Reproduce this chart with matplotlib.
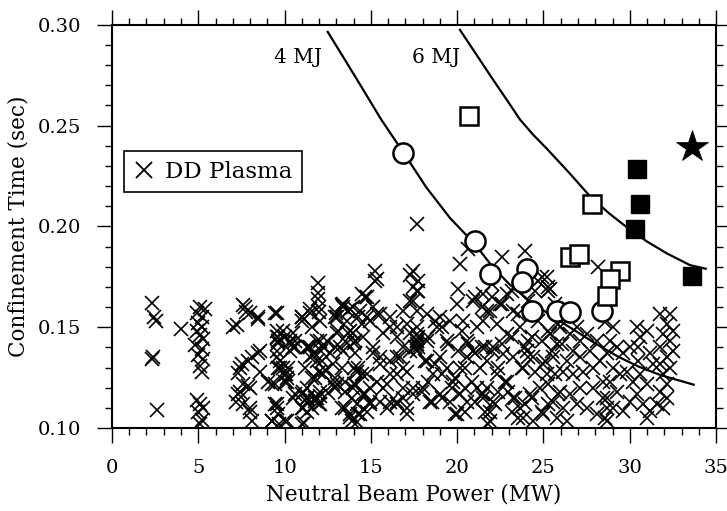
import matplotlib
matplotlib.use("Agg")
import matplotlib.pyplot as plt
from matplotlib.lines import Line2D
from matplotlib.ticker import MultipleLocator, FormatStrFormatter

plt.rcParams['font.family'] = ['DejaVu Serif']
plt.rcParams['mathtext.fontset'] = 'dejavuserif'

# DD plasma shots, (neutral beam power [MW], confinement time [s])
dd_low = [
    (2.3, 0.162), (2.45, 0.155), (2.55, 0.153), (2.3, 0.134), (2.35, 0.135),
    (2.6, 0.109), (4.0, 0.149),
    (5.1, 0.160), (5.4, 0.159), (4.9, 0.157), (5.2, 0.155), (5.0, 0.152),
    (5.2, 0.150), (4.9, 0.148), (5.1, 0.146), (5.3, 0.144), (4.8, 0.141),
    (5.2, 0.139), (5.0, 0.136), (5.3, 0.134), (5.1, 0.131), (5.2, 0.128),
    (4.9, 0.114), (5.1, 0.112), (5.3, 0.110), (5.0, 0.108), (5.2, 0.104),
    (5.1, 0.102),
    (7.0, 0.150), (7.7, 0.160), (7.75, 0.1575), (8.47, 0.155), (7.4, 0.130),
    (7.9, 0.133), (8.47, 0.137), (7.4, 0.118), (7.9, 0.121), (7.2, 0.113),
    (8.0, 0.110), (8.1, 0.1035), (9.44, 0.157), (9.3, 0.122), (9.55, 0.112),
    (9.3, 0.1035), (9.7, 0.102), (9.55, 0.145), (9.6, 0.142), (9.55, 0.138),
    (9.75, 0.133), (9.9, 0.130), (10.1, 0.127), (10.0, 0.123), (10.3, 0.143),
    (10.6, 0.140), (10.5, 0.147), (11.0, 0.155), (11.5, 0.157), (11.95, 0.172),
    (11.95, 0.167), (11.95, 0.164), (12.0, 0.160), (12.0, 0.1575), (11.5, 0.140),
    (11.7, 0.137), (11.9, 0.133), (12.05, 0.143), (12.1, 0.138), (11.2, 0.130),
    (11.6, 0.125), (12.0, 0.128), (11.0, 0.117), (11.3, 0.115), (11.75, 0.1136),
    (12.0, 0.112), (12.05, 0.116), (11.0, 0.110), (11.3, 0.108), (11.1, 0.1025),
    (12.8, 0.122), (13.3, 0.110), (13.0, 0.157), (13.4, 0.160), (13.7, 0.158),
    (13.8, 0.148), (14.0, 0.142), (13.4, 0.138), (14.0, 0.130), (14.0, 0.122),
    (13.8, 0.1055), (14.2, 0.103),
    (7.61, 0.161), (7.99, 0.157), (8.48, 0.154), (9.54, 0.157), (7.22, 0.151),
    (10.99, 0.155), (11.47, 0.159), (12.92, 0.155), (13.3, 0.161), (13.79, 0.159),
    (14.46, 0.1665), (14.27, 0.155), (9.54, 0.148), (10.02, 0.145), (10.6, 0.143),
    (9.64, 0.143), (10.5, 0.140), (11.86, 0.143), (11.38, 0.140), (12.24, 0.140),
    (11.66, 0.136), (12.15, 0.133), (12.34, 0.129), (12.92, 0.140), (13.11, 0.148),
    (13.69, 0.147), (13.6, 0.142), (14.08, 0.143), (14.46, 0.1515), (14.08, 0.137),
    (14.27, 0.130), (14.46, 0.127), (14.08, 0.122), (13.5, 0.123), (12.92, 0.125),
    (11.76, 0.125), (11.28, 0.120), (11.28, 0.115), (11.76, 0.115), (12.05, 0.112),
    (11.57, 0.110), (11.09, 0.110), (10.6, 0.117), (10.02, 0.127), (10.12, 0.123),
    (10.22, 0.130), (9.64, 0.130), (9.06, 0.123), (8.57, 0.128), (8.09, 0.135),
    (8.57, 0.138), (7.51, 0.132), (7.32, 0.1275), (7.61, 0.122), (7.99, 0.120),
    (7.32, 0.117), (7.61, 0.112), (7.99, 0.108), (9.44, 0.112), (9.64, 0.107),
    (10.02, 0.1035), (9.25, 0.1035), (10.99, 0.102), (13.5, 0.110), (13.88, 0.1035),
    (14.27, 0.107), (12.92, 0.120), (12.53, 0.1175), (13.5, 0.118), (13.88, 0.115),
]

dd_mid = [
    (15.33, 0.174), (14.75, 0.165), (17.27, 0.176), (17.46, 0.170), (17.46, 0.163),
    (17.65, 0.158), (17.65, 0.150), (17.65, 0.143), (17.65, 0.138), (17.55, 0.140),
    (17.75, 0.145), (17.27, 0.147), (16.88, 0.140), (16.49, 0.150), (16.11, 0.155),
    (15.72, 0.147), (15.33, 0.1565), (14.95, 0.153), (14.37, 0.158), (13.98, 0.160),
    (13.4, 0.1615), (13.02, 0.155), (13.6, 0.153), (13.98, 0.147), (14.56, 0.145),
    (15.14, 0.140), (15.53, 0.135), (16.11, 0.133), (16.69, 0.135), (17.07, 0.128),
    (16.49, 0.127), (15.91, 0.122), (15.33, 0.123), (14.95, 0.120), (14.18, 0.128),
    (13.98, 0.120), (14.56, 0.117), (14.95, 0.112), (14.18, 0.112), (13.79, 0.107),
    (14.37, 0.107), (15.53, 0.113), (15.91, 0.110), (16.49, 0.112), (16.88, 0.115),
    (17.07, 0.107), (17.46, 0.120), (12.63, 0.137), (12.24, 0.127), (11.86, 0.115),
    (12.05, 0.118), (11.28, 0.113), (11.09, 0.118), (10.12, 0.125), (10.31, 0.138),
    (10.31, 0.142), (9.64, 0.145), (9.93, 0.148), (9.54, 0.135), (9.73, 0.130),
    (9.44, 0.122), (9.54, 0.110), (10.12, 0.1035), (10.51, 0.115), (13.02, 0.147),
    (13.21, 0.140), (11.28, 0.140), (11.47, 0.135), (10.99, 0.153), (11.57, 0.150),
    (12.05, 0.153), (12.44, 0.143), (12.82, 0.132), (13.3, 0.130), (13.02, 0.122),
    (17.65, 0.2013), (15.24, 0.178), (15.24, 0.173), (17.46, 0.178), (17.75, 0.173),
    (17.65, 0.168), (20.16, 0.1814), (20.07, 0.169), (20.94, 0.163), (20.6, 0.189),
    (14.66, 0.165), (15.14, 0.160), (14.76, 0.155), (15.53, 0.1565), (16.11, 0.150),
    (16.49, 0.145), (16.88, 0.158), (17.27, 0.163), (17.07, 0.1515), (17.65, 0.1466),
    (17.65, 0.1416), (18.23, 0.1565), (18.23, 0.143), (18.81, 0.150), (19.0, 0.155),
    (19.58, 0.153), (19.39, 0.143), (19.97, 0.1615), (20.36, 0.153), (20.55, 0.143),
    (20.94, 0.138), (21.13, 0.150), (21.71, 0.158), (21.61, 0.140), (19.0, 0.135),
    (19.39, 0.130), (18.62, 0.127), (18.23, 0.133), (19.78, 0.123), (20.16, 0.130),
    (20.55, 0.135), (21.32, 0.130), (21.13, 0.120), (21.52, 0.117), (20.55, 0.113),
    (20.16, 0.117), (19.58, 0.113), (19.97, 0.107), (19.0, 0.117), (18.42, 0.113),
    (18.04, 0.120), (17.46, 0.117), (16.88, 0.120), (16.49, 0.113), (17.07, 0.110),
    (16.11, 0.127), (15.53, 0.132), (15.14, 0.137), (14.76, 0.127), (14.66, 0.117),
    (14.95, 0.113), (14.76, 0.108), (15.72, 0.120), (16.11, 0.113), (16.49, 0.135),
    (16.88, 0.130), (17.27, 0.138), (17.65, 0.143),
]

dd_high = [
    (17.75, 0.168), (21.03, 0.165), (21.42, 0.160), (21.99, 0.165), (22.58, 0.1615),
    (23.16, 0.168), (23.54, 0.1565), (24.12, 0.163), (24.51, 0.168), (24.89, 0.175),
    (25.28, 0.168), (25.67, 0.1615), (24.7, 0.153), (25.28, 0.148), (25.86, 0.1515),
    (26.05, 0.1416), (25.47, 0.138), (24.89, 0.143), (24.31, 0.145), (23.93, 0.140),
    (24.12, 0.135), (23.73, 0.130), (24.51, 0.128), (25.09, 0.133), (25.67, 0.127),
    (25.28, 0.122), (25.86, 0.117), (25.28, 0.112), (24.89, 0.108), (24.31, 0.115),
    (23.93, 0.112), (23.35, 0.115), (23.16, 0.108), (23.54, 0.105), (22.77, 0.123),
    (22.38, 0.130), (21.99, 0.138), (22.58, 0.1416), (23.16, 0.145), (21.42, 0.140),
    (21.03, 0.137), (20.64, 0.1416), (20.26, 0.148), (20.07, 0.138), (19.49, 0.1416),
    (19.1, 0.150), (18.71, 0.153), (18.33, 0.145), (17.75, 0.140), (18.13, 0.133),
    (18.71, 0.132), (19.1, 0.127), (18.33, 0.123), (17.94, 0.118), (18.52, 0.113),
    (19.1, 0.115), (19.68, 0.120), (19.87, 0.125), (20.45, 0.130), (20.45, 0.120),
    (20.84, 0.123), (21.42, 0.117), (21.03, 0.113), (20.45, 0.108), (19.87, 0.107),
    (21.61, 0.108), (21.8, 0.102), (22.19, 0.112), (22.38, 0.118), (22.96, 0.118),
    (22.58, 0.185), (23.93, 0.188), (25.18, 0.175), (24.7, 0.173), (25.28, 0.170),
    (25.4, 0.169), (22.0, 0.1714), (21.51, 0.1665), (22.86, 0.1665), (22.48, 0.1615),
    (23.25, 0.158), (21.9, 0.158), (21.51, 0.153), (22.29, 0.1515), (22.86, 0.1466),
    (23.64, 0.150), (24.12, 0.143), (24.02, 0.138), (24.41, 0.135), (23.83, 0.130),
    (23.25, 0.135), (22.67, 0.1366), (22.09, 0.140), (21.71, 0.133), (22.29, 0.127),
    (22.86, 0.123), (21.71, 0.120), (21.51, 0.115), (22.09, 0.113), (21.9, 0.108),
    (21.9, 0.1035), (23.25, 0.115), (23.64, 0.110), (23.83, 0.105), (24.22, 0.117),
    (24.8, 0.120), (25.18, 0.127), (24.99, 0.132), (25.57, 0.135), (25.76, 0.1416),
    (25.38, 0.1466), (25.96, 0.150), (26.53, 0.1466), (26.92, 0.150), (27.11, 0.143),
    (27.5, 0.1466), (28.08, 0.143), (27.69, 0.138), (27.11, 0.135), (26.73, 0.138),
    (26.34, 0.133), (26.15, 0.128), (26.73, 0.127), (27.31, 0.128), (27.88, 0.130),
    (28.27, 0.133), (28.47, 0.123), (27.88, 0.120), (27.11, 0.120), (26.53, 0.117),
    (25.96, 0.118), (25.57, 0.113), (26.15, 0.110), (26.92, 0.112), (27.5, 0.110),
    (28.08, 0.107), (28.66, 0.110), (25.76, 0.105), (26.34, 0.1035), (24.99, 0.107),
    (24.41, 0.1035), (28.47, 0.115), (28.66, 0.1035), (28.16, 0.1797),
    (28.56, 0.1524), (29.04, 0.150), (28.85, 0.143), (29.24, 0.140), (28.66, 0.137),
    (29.04, 0.130), (29.43, 0.127), (28.85, 0.123), (29.24, 0.118), (28.66, 0.115),
    (29.04, 0.110), (28.56, 0.105), (30.4, 0.150), (30.59, 0.145), (30.97, 0.148),
    (30.49, 0.140), (30.49, 0.133), (30.0, 0.140), (29.62, 0.137), (29.81, 0.128),
    (30.2, 0.123), (30.59, 0.127), (30.97, 0.122), (30.39, 0.117), (30.78, 0.112),
    (31.17, 0.1085), (30.97, 0.105), (30.01, 0.113), (29.62, 0.1085), (31.36, 0.132),
    (31.17, 0.137), (31.75, 0.1566), (32.33, 0.1566), (32.13, 0.1516), (32.52, 0.148),
    (31.94, 0.1466), (32.33, 0.143), (31.75, 0.140), (32.52, 0.138), (32.13, 0.135),
    (31.75, 0.132), (32.33, 0.130), (31.94, 0.127), (32.13, 0.122), (31.75, 0.118),
    (32.13, 0.115), (31.55, 0.112), (31.94, 0.110),
]

# Other discharge groups
circ_power = [16.88, 21.03, 21.9, 24.03, 23.74, 24.31, 25.76, 26.54, 28.37]
circ_tau = [0.2362, 0.1930, 0.1765, 0.1789, 0.1723, 0.1582, 0.1580, 0.1574, 0.1582]

osq_power = [20.7, 27.79, 26.54, 27.07, 29.43, 28.85, 28.66]
osq_tau = [0.2547, 0.2113, 0.1847, 0.1864, 0.1781, 0.1740, 0.1657]

fsq_power = [30.4, 30.59, 30.3, 33.58]
fsq_tau = [0.2287, 0.2113, 0.1989, 0.1756]

star_power = [33.58]
star_tau = [0.2395]

# Constant stored-energy curves
mj4_power = [12.5, 13.4, 14.4, 15.6, 16.9, 18.2, 19.6, 21.0, 22.0, 23.0,
             24.2, 25.4, 26.7, 28.0, 29.3, 30.5, 31.8, 33.7]
mj4_tau = [0.2965, 0.284, 0.270, 0.253, 0.2365, 0.2195, 0.204, 0.1915, 0.1805, 0.1715,
           0.163, 0.156, 0.149, 0.142, 0.1355, 0.1305, 0.1262, 0.1215]
mj6_power = [20.16, 21.0, 22.0, 23.0, 23.64, 24.4, 25.2, 26.5, 27.69, 28.8,
             29.84, 31.0, 32.15, 33.49, 34.4]
mj6_tau = [0.2975, 0.2867, 0.2738, 0.2612, 0.2530, 0.2455, 0.2385, 0.2265, 0.2150,
           0.2065, 0.1995, 0.1925, 0.1866, 0.1808, 0.1790]

x_ticks = [0, 5, 10, 15, 20, 25, 30, 35]
y_ticks = [0.10, 0.15, 0.20, 0.25, 0.30]

fig = plt.figure(figsize=(7.27, 5.11), dpi=100)
ax = fig.add_axes([0.154, 0.1624, 0.831, 0.789])

dd = dd_low + dd_mid + dd_high
ax.plot([p for p, _ in dd], [t for _, t in dd], ls='none', marker='x',
        ms=10, mew=1.2, color='k', zorder=2)

ax.plot(mj4_power, mj4_tau, color='k', lw=1.6, zorder=3)
ax.plot(mj6_power, mj6_tau, color='k', lw=1.6, zorder=3)

ax.plot(circ_power, circ_tau, ls='none', marker='o', ms=14.5, mew=1.8,
        mfc='white', mec='k', zorder=4)
ax.plot(osq_power, osq_tau, ls='none', marker='s', ms=13, mew=1.8,
        mfc='white', mec='k', zorder=4)
ax.plot(fsq_power, fsq_tau, ls='none', marker='s', ms=13, mew=1.0,
        mfc='k', mec='k', zorder=4)
ax.plot(star_power, star_tau, ls='none', marker='*', ms=24, mew=0.5,
        mfc='k', mec='k', zorder=4)

ax.text(12.17, 0.2836, '4 MJ', ha='right', va='center', fontsize=14.5)
ax.text(20.16, 0.2836, '6 MJ', ha='right', va='center', fontsize=14.5)

ax.set_xlim(0, 35)
ax.set_ylim(0.10, 0.30)
ax.set_xticks(x_ticks)
ax.set_yticks(y_ticks)
ax.xaxis.set_minor_locator(MultipleLocator(1))
ax.yaxis.set_minor_locator(MultipleLocator(0.01))
ax.yaxis.set_major_formatter(FormatStrFormatter('%.2f'))
ax.tick_params(which='both', direction='out', top=True, right=True,
               labeltop=False, labelright=False, width=1.0, labelsize=14)
ax.tick_params(which='major', length=11)
ax.tick_params(which='minor', length=5)
ax.tick_params(axis='x', which='major', pad=11)
ax.tick_params(axis='y', which='major', pad=11)
for s in ax.spines.values():
    s.set_linewidth(1.5)

ax.set_xlabel('Neutral Beam Power (MW)', fontsize=15.5, labelpad=5)
ax.set_ylabel('Confinement Time (sec)', fontsize=15.5, labelpad=6)

handle = Line2D([], [], ls='none', marker='x', ms=11, mew=1.3, color='k')
leg = ax.legend([handle], ['DD Plasma'], loc='upper left',
                bbox_to_anchor=(0.02, 0.687), frameon=True, fancybox=False,
                edgecolor='k', framealpha=1, fontsize=16.5, handlelength=0.9,
                handletextpad=0.45, borderpad=0.42, borderaxespad=0)
leg.get_frame().set_linewidth(1.2)

fig.savefig('out.png', dpi=100)
